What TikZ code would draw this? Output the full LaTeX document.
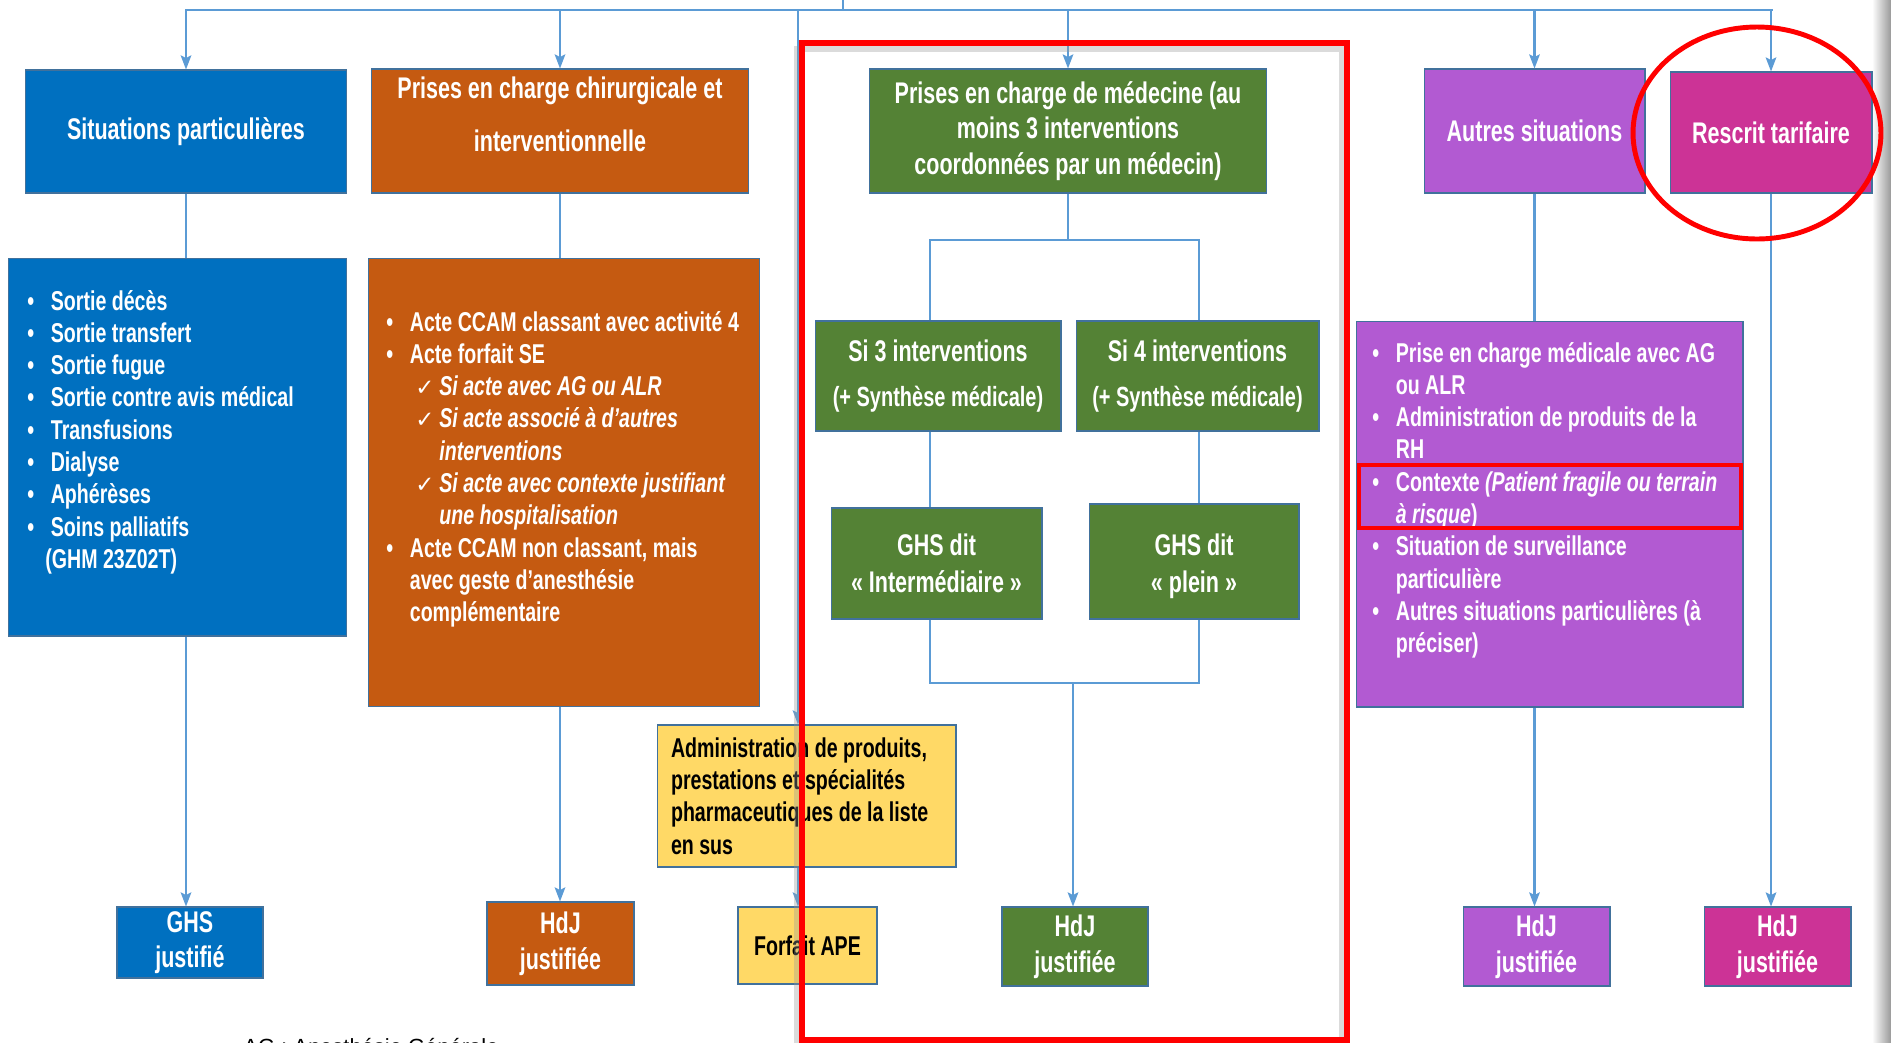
\documentclass[tikz,border=0pt]{standalone}
\usepackage{fontspec}
\setmainfont{Liberation Sans}[FakeStretch=0.72]
\newfontfamily\checkfont{DejaVu Sans}
\newfontfamily\notefont{Liberation Sans}
\usetikzlibrary{arrows.meta}

\definecolor{sitblue}{RGB}{0,112,192}
\definecolor{chirorange}{RGB}{197,90,17}
\definecolor{medgreen}{RGB}{84,130,53}
\definecolor{autpurple}{RGB}{178,90,210}
\definecolor{rescmagenta}{RGB}{204,51,150}
\definecolor{susyellow}{RGB}{255,217,102}
\definecolor{edgeblue}{RGB}{65,113,156}
\definecolor{linkblue}{RGB}{91,155,213}

\newcommand{\hdfont}{\fontsize{17}{20.3}\selectfont\bfseries}
\newcommand{\lsfont}{\fontsize{15.5}{18.4}\selectfont\bfseries}
\newcommand{\synfont}{\fontsize{15.8}{20.3}\selectfont}
\newcommand{\itembul}{\makebox[0.47cm][l]{\textbullet}}
\newcommand{\itemcont}{\hspace*{0.47cm}}
\newcommand{\itemchk}{\hspace*{0.58cm}\makebox[0.48cm][l]{\checkfont\mdseries\upshape\fontsize{13}{18.4}\selectfont ✓}}
\newcommand{\chkcont}{\hspace*{1.06cm}}

\begin{document}
\begin{tikzpicture}[
    x=0.02cm, y=-0.02cm,
    head/.style={draw=edgeblue, line width=0.6pt, text=white, align=center,
                 inner sep=0pt, font=\hdfont},
    res/.style={head, minimum width=2.94cm, minimum height=1.58cm},
    lst/.style={draw=edgeblue, line width=0.6pt, inner sep=0pt},
    lsttxt/.style={anchor=base west, inner sep=0pt, text=white, align=flush left,
                   text width=#1, font=\lsfont},
    link/.style={draw=linkblue, line width=1.3pt},
    arr/.style={link, ->, >={Stealth[length=8pt, width=6pt, inset=1.5pt]}},
    redmark/.style={draw=red, line width=3.2pt}
]
\fill[white] (0,0) rectangle (1891,1042);
\useasboundingbox (0,0) rectangle (1891,1042);
\shade[left color=white, right color=black!40] (1872,0) rectangle (1891,1042);

\node[head, fill=sitblue, minimum width=6.44cm, minimum height=2.46cm] (sittitle) at (186,131.5) {Situations particulières};
\node[head, fill=chirorange, minimum width=7.56cm, minimum height=2.48cm] (chirtitle) at (560,131) {Prises en charge chirurgicale et\\[9.7pt]interventionnelle\\[-1.5pt]\mbox{}};
\node[head, fill=medgreen, minimum width=7.94cm, minimum height=2.48cm] (medtitle) at (1068,131) {Prises en charge de médecine (au\\moins 3 interventions\\coordonnées par un médecin)};
\node[head, fill=autpurple, minimum width=4.42cm, minimum height=2.48cm] (auttitle) at (1534.5,131) {Autres situations};
\node[head, fill=rescmagenta, minimum width=4.04cm, minimum height=2.42cm] (rescrit) at (1771,132.5) {Rescrit tarifaire};

\node[lst, fill=sitblue, minimum width=6.78cm, minimum height=7.56cm] (sitlist) at (177.5,447) {};
\node[lsttxt=6.3cm] (sittext) at (27,310) {\itembul Sortie décès\\
  \itembul Sortie transfert\\
  \itembul Sortie fugue\\
  \itembul Sortie contre avis médical\\
  \itembul Transfusions\\
  \itembul Dialyse\\
  \itembul Aphérèses\\
  \itembul Soins palliatifs\\
  \hspace*{0.36cm}(GHM 23Z02T)};

\node[lst, fill=chirorange, minimum width=7.84cm, minimum height=8.98cm] (chirlist) at (564,482.5) {};
\node[lsttxt=7.5cm] (chirtext) at (386,331) {\itembul Acte CCAM classant avec activité 4\\
  \itembul Acte forfait SE\\
  \itemchk\textit{Si acte avec AG ou ALR}\\
  \itemchk\textit{Si acte associé à d’autres}\\
  \chkcont\textit{interventions}\\
  \itemchk\textit{Si acte avec contexte justifiant}\\
  \chkcont\textit{une hospitalisation}\\
  \itembul Acte CCAM non classant, mais\\
  \itemcont avec geste d’anesthésie\\
  \itemcont complémentaire};

\node[head, fill=medgreen, minimum width=4.92cm, minimum height=2.2cm] (si3) at (938,376) {Si 3 interventions\\[5.1pt]{\synfont(+ Synthèse médicale)}};
\node[head, fill=medgreen, minimum width=4.86cm, minimum height=2.2cm] (si4) at (1197.5,376) {Si 4 interventions\\[5.1pt]{\synfont(+ Synthèse médicale)}};
\node[head, fill=medgreen, minimum width=4.22cm, minimum height=2.22cm] (ghsi) at (936.5,563.5) {GHS dit\\[0.7pt]« Intermédiaire »};
\node[head, fill=medgreen, minimum width=4.2cm, minimum height=2.3cm] (ghsp) at (1194,561.5) {\mbox{}\\[-2.3pt]GHS dit\\[0.7pt]« plein »};

\node[lst, fill=autpurple, minimum width=7.74cm, minimum height=7.72cm] (autlist) at (1549.5,514) {};
\node[lsttxt=7.3cm] (auttext) at (1372,362) {\itembul Prise en charge médicale avec AG\\
  \itemcont ou ALR\\
  \itembul Administration de produits de la\\
  \itemcont RH\\
  \itembul Contexte \textit{(Patient fragile ou terrain}\\
  \itemcont\textit{à risque})\\
  \itembul Situation de surveillance\\
  \itemcont particulière\\
  \itembul Autres situations particulières (à\\
  \itemcont préciser)};

\node[head, fill=susyellow, text=black, font=\lsfont, align=flush left, text width=5.42cm,
      minimum width=5.98cm, minimum height=2.84cm] (sus) at (806.5,796) {Administration de produits,\\prestations et spécialités\\pharmaceutiques de la liste\\en sus};

\node[res, fill=sitblue, minimum width=2.92cm, minimum height=1.42cm] (ghsj) at (190,942.5) {GHS\\justifié};
\node[res, fill=chirorange, minimum height=1.66cm] (hdjc) at (560.5,943.5) {HdJ\\justifiée};
\node[res, fill=susyellow, text=black, font=\lsfont, minimum width=2.78cm, minimum height=1.54cm] (forfait) at (807.5,945.5) {Forfait APE};
\node[res, fill=medgreen, minimum width=2.92cm] (hdjm) at (1075,946.5) {HdJ\\justifiée};
\node[res, fill=autpurple] (hdja) at (1536.5,946.5) {HdJ\\justifiée};
\node[res, fill=rescmagenta] (hdjr) at (1777.5,946.5) {HdJ\\justifiée};

\node[anchor=base west, inner sep=0pt, font={\notefont\fontsize{12.5}{15}\selectfont}] (agnote) at (243,1054) {AG : Anesthésie Générale};

\coordinate (feed) at (843,0);
\coordinate (busL) at (185,10);
\coordinate (busR) at (1773,10);
\coordinate (susfeed) at (798,10);
\coordinate (split) at (1068,240);
\coordinate (join) at (1073,683);

\draw[link] (busL) -- (busR);
\draw[link] (feed) -- (feed |- busL);
\draw[arr] (sittitle.north |- busL) -- (sittitle.north);
\draw[arr] (chirtitle.north |- busL) -- (chirtitle.north);
\draw[arr] (medtitle.north |- busL) -- (medtitle.north);
\draw[arr] (auttitle.north |- busL) -- (auttitle.north);
\draw[arr] (rescrit.north |- busL) -- (rescrit.north);
\draw[arr] (susfeed) -- (susfeed |- sus.north);
\draw[arr] (susfeed |- sus.south) -- (susfeed |- forfait.north);

\draw[link] (sittitle.south) -- (sittitle.south |- sitlist.north);
\draw[arr] (sittitle.south |- sitlist.south) -- (sittitle.south |- ghsj.north);
\draw[link] (chirtitle.south) -- (chirtitle.south |- chirlist.north);
\draw[arr] (chirtitle.south |- chirlist.south) -- (chirtitle.south |- hdjc.north);
\draw[link] (auttitle.south) -- (auttitle.south |- autlist.north);
\draw[arr] (auttitle.south |- autlist.south) -- (auttitle.south |- hdja.north);
\draw[arr] (rescrit.south) -- (rescrit.south |- hdjr.north);

\draw[link] (medtitle.south) -- (split);
\draw[link] (si3.north -| 930,0) |- (split) -| (si4.north -| 1199,0);
\draw[link] (si3.south -| 930,0) -- (ghsi.north -| 930,0);
\draw[link] (si4.south -| 1199,0) -- (ghsp.north -| 1199,0);
\draw[link] (ghsi.south -| 930,0) |- (join) -| (ghsp.south -| 1199,0);
\draw[arr] (join) -- (join |- hdjm.north);

\draw[black!40, opacity=0.35, line width=3pt] (797,49) rectangle (1342,1046);
\draw[redmark] (802,43) rectangle (1347,1040);
\draw[redmark, line width=2.8pt] (1757,133) ellipse [x radius=2.48cm, y radius=2.12cm];
\draw[redmark, line width=2.4pt] (1359,465) rectangle (1741,528);
\end{tikzpicture}
\end{document}
